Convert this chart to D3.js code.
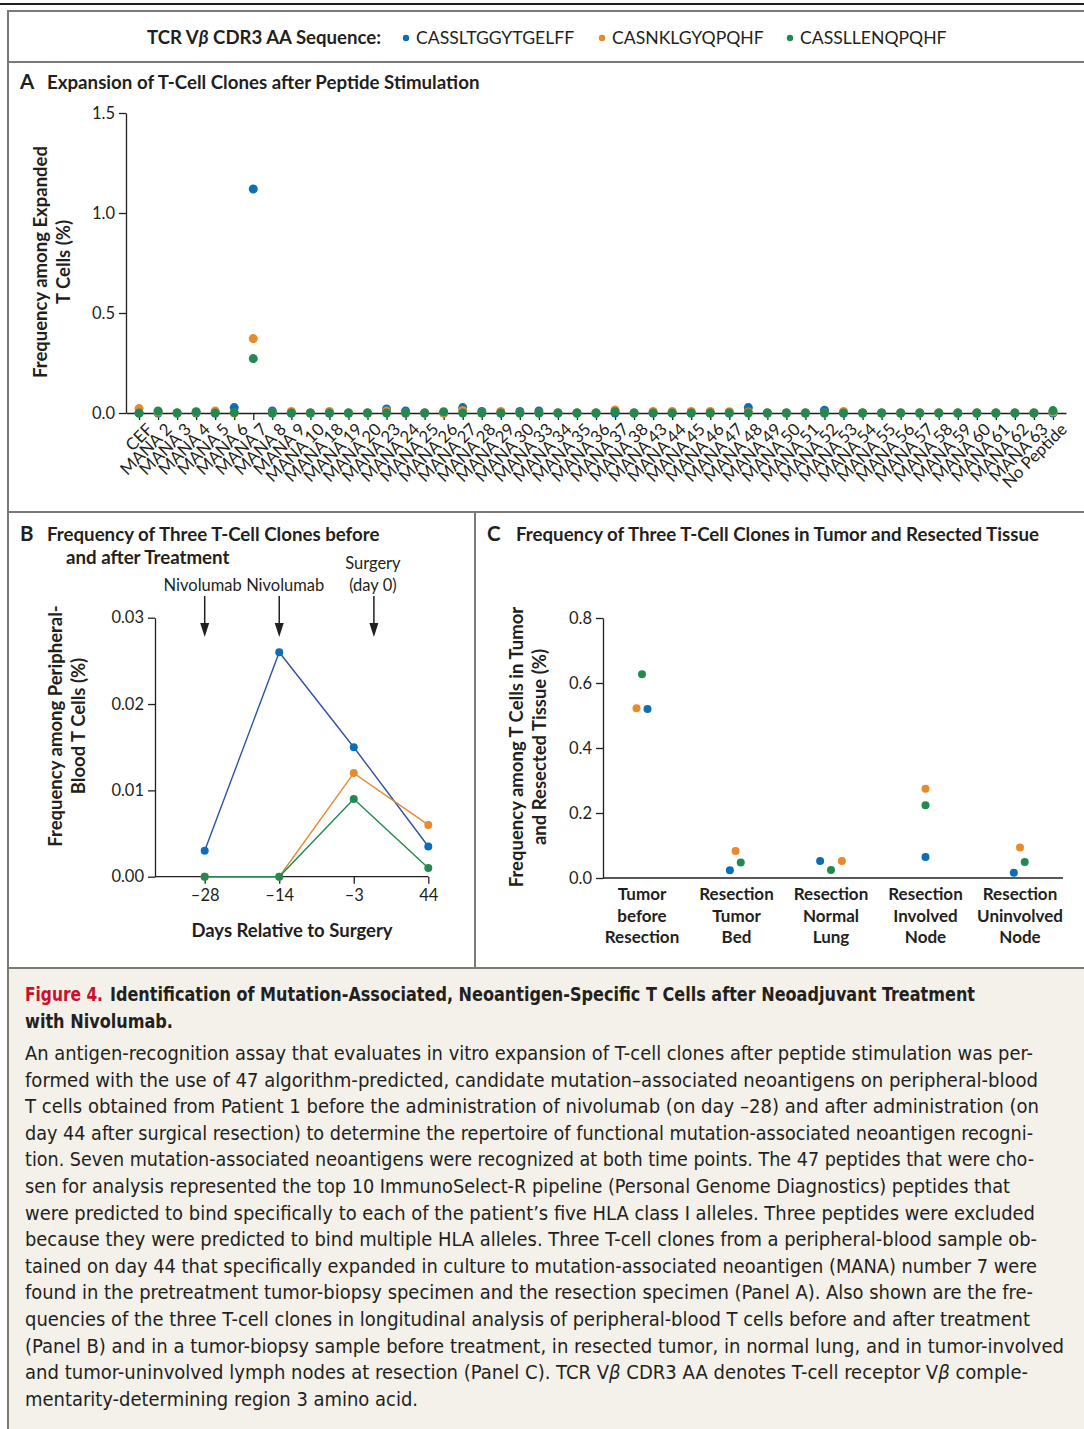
<!DOCTYPE html>
<html><head><meta charset="utf-8">
<script src="https://cdn.jsdelivr.net/npm/d3@7"></script>
<style>
body{margin:0;background:#fff}
svg{display:block}
text{font-family:Lato,'Open Sans',sans-serif;fill:#231f20}
.cap{font-family:'Liberation Sans Narrow','DejaVu Sans Condensed',Lato,sans-serif}
</style>
</head><body>
<svg id="chart" width="1084" height="1429"></svg>
<script>
// ---------- DATA ----------
const seriesNames = ["CASSLTGGYTGELFF", "CASNKLGYQPQHF", "CASSLLENQPQHF"];
const seriesColors = ["#0b6fb8", "#e8892b", "#23894f"];
const lineColors = ["#2f52a6", "#e8892b", "#23894f"];

const categoriesA = ["CEF","MANA 2","MANA 3","MANA 4","MANA 5","MANA 6","MANA 7","MANA 8","MANA 9","MANA 10",
  "MANA 18","MANA 19","MANA 20","MANA 23","MANA 24","MANA 25","MANA 26","MANA 27","MANA 28","MANA 29","MANA 30",
  "MANA 33","MANA 34","MANA 35","MANA 36","MANA 37","MANA 38","MANA 43","MANA 44","MANA 45","MANA 46","MANA 47",
  "MANA 48","MANA 49","MANA 50","MANA 51","MANA 52","MANA 53","MANA 54","MANA 55","MANA 56","MANA 57","MANA 58",
  "MANA 59","MANA 60","MANA 61","MANA 62","MANA 63","No Peptide"];
const blueA = [0,0,0,0,0,0.027,1.12,0.01,0,0,
  0,0,0,0.02,0.01,0,0,0.027,0.008,0,0.008,
  0.01,0,0,0,0,0,0,0,0,0,0,
  0.027,0,0,0,0.014,0,0,0,0,0,0,
  0,0,0,0,0,0];
const orangeA = [0.022,0.004,0,0.004,0.01,0,0.372,0,0.008,0,
  0.008,0,0,0.01,0,0,0,0.013,0,0.008,0,
  0,0,0,0,0.015,0,0.008,0.008,0.008,0.008,0.006,
  0.005,0,0,0,0,0.008,0,0,0,0,0,
  0,0,0,0,0,0.005];
const greenA = [0,0.01,0,0.006,0,0.002,0.272,0,0,0,
  0,0,0,0,0,0,0.006,0,0,0,0,
  0,0,0,0,0.006,0,0,0,0,0,0,
  0,0,0,0,0,0,0,0,0,0,0,
  0,0,0,0,0,0.012];
const ticksA = [0, 0.5, 1.0, 1.5];

const daysB = ["\u201328", "\u201314", "\u20133", "44"];
const blueB = [0.003, 0.026, 0.015, 0.0035];
const orangeB = [0, 0, 0.012, 0.006];
const greenB = [0, 0, 0.009, 0.001];
const ticksB = [0, 0.01, 0.02, 0.03];
const eventsB = [
  {label: ["Nivolumab"], at: 0, frac: 0, dx: -2},
  {label: ["Nivolumab"], at: 1, frac: 0, dx: 6},
  {label: ["Surgery", "(day 0)"], at: 2, frac: 0.27, dx: -1}
];

const categoriesC = [["Tumor","before","Resection"],["Resection","Tumor","Bed"],["Resection","Normal","Lung"],
  ["Resection","Involved","Node"],["Resection","Uninvolved","Node"]];
const blueC = [0.52, 0.024, 0.052, 0.065, 0.016];
const orangeC = [0.522, 0.083, 0.052, 0.275, 0.094];
const greenC = [0.627, 0.048, 0.025, 0.224, 0.049];
const ticksC = [0, 0.2, 0.4, 0.6, 0.8];
// horizontal jitter (fraction of category step) per series, as in the original
const jitterC = [[0.058,-0.07,-0.115,0,-0.065],[-0.058,-0.01,0.115,0,0],[0,0.045,0,0,0.05]];

const captionTitle = ["Figure 4.", "Identification of Mutation-Associated, Neoantigen-Specific T Cells after Neoadjuvant Treatment", "with Nivolumab."];
const captionLines = [
 "An antigen-recognition assay that evaluates in vitro expansion of T-cell clones after peptide stimulation was per-",
 "formed with the use of 47 algorithm-predicted, candidate mutation\u2013associated neoantigens on peripheral-blood",
 "T cells obtained from Patient 1 before the administration of nivolumab (on day \u201328) and after administration (on",
 "day 44 after surgical resection) to determine the repertoire of functional mutation-associated neoantigen recogni-",
 "tion. Seven mutation-associated neoantigens were recognized at both time points. The 47 peptides that were cho-",
 "sen for analysis represented the top 10 ImmunoSelect-R pipeline (Personal Genome Diagnostics) peptides that",
 "were predicted to bind specifically to each of the patient\u2019s five HLA class I alleles. Three peptides were excluded",
 "because they were predicted to bind multiple HLA alleles. Three T-cell clones from a peripheral-blood sample ob-",
 "tained on day 44 that specifically expanded in culture to mutation-associated neoantigen (MANA) number 7 were",
 "found in the pretreatment tumor-biopsy specimen and the resection specimen (Panel A). Also shown are the fre-",
 "quencies of the three T-cell clones in longitudinal analysis of peripheral-blood T cells before and after treatment",
 "(Panel B) and in a tumor-biopsy sample before treatment, in resected tumor, in normal lung, and in tumor-involved",
 "and tumor-uninvolved lymph nodes at resection (Panel C). TCR V\u03b2 CDR3 AA denotes T-cell receptor V\u03b2 comple-",
 "mentarity-determining region 3 amino acid."
];
const captionWidths = [1008,1013,1014,1008,1009,985,1010,1012,1012,1008,1005,1039,1003,393];

// ---------- DRAW ----------
const svg = d3.select("#chart");
const frame = "#7a7a7a";

// caption background
svg.append("rect").attr("x", 8).attr("y", 968).attr("width", 1076).attr("height", 461).attr("fill", "#f4f1ea");
// frame lines
svg.append("line").attr("x1",0).attr("x2",1084).attr("y1",4).attr("y2",4).attr("stroke","#231f20").attr("stroke-width",2);
svg.append("line").attr("x1",7).attr("x2",1084).attr("y1",11).attr("y2",11).attr("stroke",frame).attr("stroke-width",2);
svg.append("line").attr("x1",8).attr("x2",8).attr("y1",10).attr("y2",1429).attr("stroke",frame).attr("stroke-width",2);
[62, 512, 968].forEach(y => svg.append("line").attr("x1",8).attr("x2",1084).attr("y1",y).attr("y2",y).attr("stroke",frame).attr("stroke-width",2));
svg.append("line").attr("x1",475).attr("x2",475).attr("y1",512).attr("y2",968).attr("stroke",frame).attr("stroke-width",2);

// legend
const leg = svg.append("text").attr("x",147).attr("y",44).attr("font-size",18.6).attr("font-weight",700);
leg.append("tspan").text("TCR V");
leg.append("tspan").attr("font-style","italic").text("\u03b2");
leg.append("tspan").text(" CDR3 AA Sequence:");
const legX = [406, 602, 790];
seriesNames.forEach((n,i) => {
  svg.append("circle").attr("cx",legX[i]).attr("cy",38).attr("r",3.2).attr("fill",seriesColors[i]);
  svg.append("text").attr("x",legX[i]+10).attr("y",44).attr("font-size",17.6).text(n);
});

function panelTitle(letter, lines, x, y, tx) {
  svg.append("text").attr("x",x).attr("y",y).attr("font-size",20.5).attr("font-weight",700).text(letter);
  lines.forEach((l,i) => svg.append("text").attr("x",tx[i]).attr("y",y + i*23).attr("font-size",18.7).attr("font-weight",700).text(l));
}
function yLabel(lines, xs, cy) {
  lines.forEach((l,i) => svg.append("text")
    .attr("transform", `translate(${xs[i]},${cy}) rotate(-90)`)
    .attr("text-anchor","middle").attr("font-size",18.5).attr("font-weight",700).text(l));
}
function styleAxis(g) {
  g.selectAll("path,line").attr("stroke","#231f20").attr("stroke-width",1.3);
  g.selectAll("text").attr("fill","#231f20").attr("font-family","Lato,sans-serif");
}

// ---------- PANEL A ----------
panelTitle("A", ["Expansion of T-Cell Clones after Peptide Stimulation"], 20, 89, [47]);
yLabel(["Frequency among Expanded", "T Cells (%)"], [47, 70], 262);
const xA = d3.scalePoint().domain(categoriesA).range([126, 1066]).padding(0.684);
const yA = d3.scaleLinear().domain([0, 1.5]).range([413, 113]);
const gyA = svg.append("g").attr("transform","translate(126,0)")
  .call(d3.axisLeft(yA).tickValues(ticksA).tickFormat(d3.format(".1f")).tickSize(7).tickPadding(4).tickSizeOuter(0));
gyA.selectAll("text").attr("font-size",16.5);
styleAxis(gyA);
const gxA = svg.append("g").attr("transform","translate(0,413)")
  .call(d3.axisBottom(xA).tickSize(7).tickSizeOuter(0));
gxA.selectAll("text").attr("font-size",16.8).attr("text-anchor","end")
  .attr("transform","translate(6,9) rotate(-45)").attr("dy","0.71em").attr("y",0);
styleAxis(gxA);
[blueA, orangeA, greenA].forEach((vals, s) => {
  svg.append("g").selectAll("circle").data(vals).join("circle")
    .attr("cx",(d,i) => xA(categoriesA[i])).attr("cy", d => yA(d)).attr("r",4.5).attr("fill",seriesColors[s]);
});

// ---------- PANEL B ----------
panelTitle("B", ["Frequency of Three T-Cell Clones before", "and after Treatment"], 20, 541, [47, 66]);
yLabel(["Frequency among Peripheral-", "Blood T Cells (%)"], [62, 85], 726);
const xB = d3.scalePoint().domain(daysB).range([204.7, 428.3]);
const yB = d3.scaleLinear().domain([0, 0.03]).range([876.7, 617.7]);
const gyB = svg.append("g").attr("transform","translate(155,0)")
  .call(d3.axisLeft(yB).tickValues(ticksB).tickFormat(d3.format(".2f")).tickSize(7).tickPadding(4).tickSizeOuter(0));
gyB.selectAll("text").attr("font-size",16.5);
styleAxis(gyB);
const gxB = svg.append("g").attr("transform","translate(0,876.7)")
  .call(d3.axisBottom(xB).tickSize(7).tickPadding(6).tickSizeOuter(0));
gxB.select(".domain").remove();
gxB.append("line").attr("x1",155).attr("x2",xB(daysB[3])).attr("y1",0).attr("y2",0);
gxB.selectAll("text").attr("font-size",16.5);
styleAxis(gxB);
svg.append("text").attr("x",292).attr("y",937).attr("text-anchor","middle").attr("font-size",18.5).attr("font-weight",700).text("Days Relative to Surgery");
const lineB = d3.line().x((d,i) => xB(daysB[i])).y(d => yB(d));
[blueB, orangeB, greenB].forEach((vals, s) => {
  svg.append("path").datum(vals).attr("d", lineB).attr("fill","none").attr("stroke",lineColors[s]).attr("stroke-width",1.4);
});
[blueB, orangeB, greenB].forEach((vals, s) => {
  svg.append("g").selectAll("circle").data(vals).join("circle")
    .attr("cx",(d,i) => xB(daysB[i])).attr("cy", d => yB(d)).attr("r",4).attr("fill",seriesColors[s]);
});
const stepB = xB.step();
eventsB.forEach(ev => {
  const ax = xB(daysB[ev.at]) + ev.frac * stepB;
  const n = ev.label.length;
  ev.label.forEach((t,i) => svg.append("text").attr("x", ax + ev.dx).attr("y", 591 - (n-1-i)*22)
    .attr("text-anchor","middle").attr("font-size",16.5).text(t));
  svg.append("line").attr("x1",ax).attr("x2",ax).attr("y1",596).attr("y2",626).attr("stroke","#231f20").attr("stroke-width",1.5);
  svg.append("path").attr("d",`M${ax-4.5},${623}L${ax+4.5},${623}L${ax},${637}Z`).attr("fill","#231f20");
});

// ---------- PANEL C ----------
panelTitle("C", ["Frequency of Three T-Cell Clones in Tumor and Resected Tissue"], 487, 541, [516]);
yLabel(["Frequency among T Cells in Tumor", "and Resected Tissue (%)"], [523, 546], 747);
const keysC = categoriesC.map(d => d.join(" "));
const xC = d3.scalePoint().domain(keysC).range([642, 1020]);
const yC = d3.scaleLinear().domain([0, 0.8]).range([878, 618]);
const gyC = svg.append("g").attr("transform","translate(603,0)")
  .call(d3.axisLeft(yC).tickValues(ticksC).tickFormat(d3.format(".1f")).tickSize(7).tickPadding(4).tickSizeOuter(0));
gyC.selectAll("text").attr("font-size",16.5);
styleAxis(gyC);
svg.append("line").attr("x1",603).attr("x2",1063).attr("y1",878).attr("y2",878).attr("stroke","#231f20").attr("stroke-width",1.3);
categoriesC.forEach((lines, i) => {
  lines.forEach((t, j) => svg.append("text").attr("x", xC(keysC[i])).attr("y", 900 + j*21.5)
    .attr("text-anchor","middle").attr("font-size",17).attr("font-weight",700).text(t));
});
const stepC = xC.step();
[blueC, orangeC, greenC].forEach((vals, s) => {
  svg.append("g").selectAll("circle").data(vals).join("circle")
    .attr("cx",(d,i) => xC(keysC[i]) + jitterC[s][i]*stepC).attr("cy", d => yC(d)).attr("r",4).attr("fill",seriesColors[s]);
});

// ---------- CAPTION ----------
svg.append("text").attr("class","cap").attr("x",25).attr("y",1001).attr("font-size",20).attr("font-weight",700)
  .attr("textLength",78).attr("lengthAdjust","spacingAndGlyphs").style("fill","#c8102e").text(captionTitle[0]);
svg.append("text").attr("class","cap").attr("x",110).attr("y",1001).attr("font-size",20).attr("font-weight",700)
  .attr("textLength",865).attr("lengthAdjust","spacingAndGlyphs").text(captionTitle[1]);
svg.append("text").attr("class","cap").attr("x",25).attr("y",1028).attr("font-size",20).attr("font-weight",700)
  .attr("textLength",148).attr("lengthAdjust","spacingAndGlyphs").text(captionTitle[2]);
captionLines.forEach((l, i) => {
  const t = svg.append("text").attr("class","cap").attr("x",25).attr("y",1060 + i*26.6).attr("font-size",19.5)
    .attr("textLength",captionWidths[i]).attr("lengthAdjust","spacingAndGlyphs");
  if (l.includes("\u03b2")) {
    l.split("\u03b2").forEach((part, k, arr) => {
      t.append("tspan").text(part);
      if (k < arr.length - 1) t.append("tspan").attr("font-style","italic").text("\u03b2");
    });
  } else t.text(l);
});
</script>
</body></html>
